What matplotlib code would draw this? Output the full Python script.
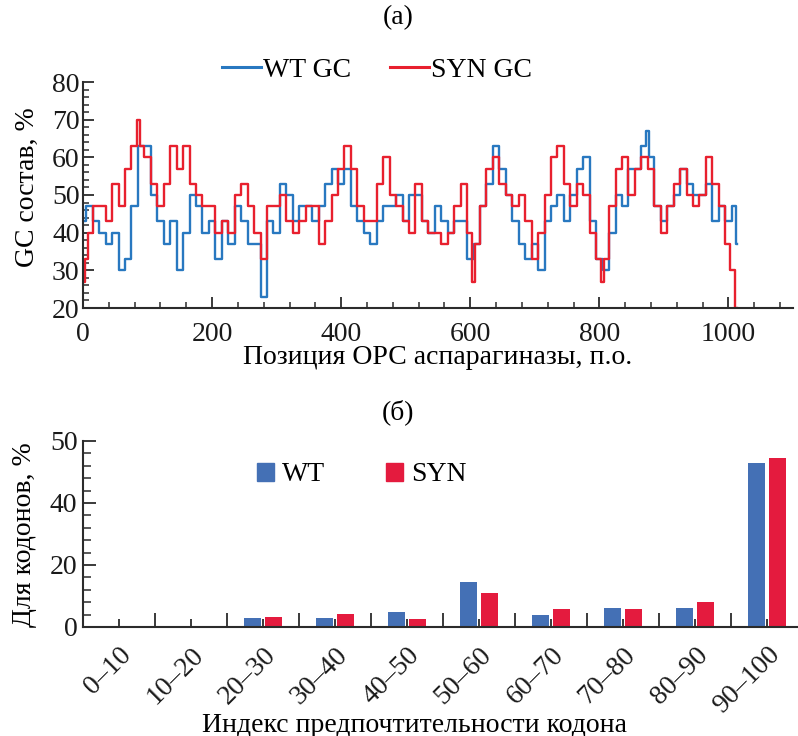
import matplotlib
matplotlib.use("Agg")
import matplotlib.pyplot as plt
from matplotlib.patches import Patch
from matplotlib.lines import Line2D
from matplotlib.ticker import MultipleLocator, FixedLocator

plt.rcParams['font.family'] = ['Liberation Serif', 'DejaVu Serif']

# ---- Panel (a): GC content along ORF ----
wt_pos = [0, 10, 20, 30, 40, 50, 60, 70, 80, 90, 100, 110, 120, 130, 140, 150, 160, 170,
          180, 190, 200, 210, 220, 230, 240, 250, 260, 270, 280, 290, 300, 310, 320, 330,
          340, 350, 360, 370, 380, 390, 400, 410, 420, 430, 440, 450, 460, 470, 480, 490,
          500, 510, 520, 530, 540, 550, 560, 570, 580, 590, 600, 610, 620, 630, 640, 650,
          660, 670, 680, 690, 700, 710, 720, 730, 740, 750, 760, 770, 780, 790, 800, 810,
          820, 830, 840, 850, 860, 870, 875, 880, 890, 900, 910, 920, 930, 940, 950, 960,
          970, 980, 990, 1000, 1010, 1014]
wt_gc = [43, 47, 43, 40, 37, 40, 30, 33, 47, 63, 63, 50, 43, 37, 43, 30, 40, 50,
         47, 40, 43, 33, 43, 37, 47, 43, 37, 37, 23, 43, 40, 53, 50, 43,
         47, 47, 43, 47, 53, 57, 53, 57, 47, 43, 40, 37, 43, 47, 47, 50,
         43, 50, 50, 43, 40, 47, 43, 40, 43, 43, 33, 37, 47, 53, 63, 57,
         50, 43, 37, 33, 37, 30, 43, 47, 50, 43, 50, 57, 60, 43, 33, 30,
         40, 50, 47, 57, 57, 63, 67, 60, 47, 43, 47, 50, 57, 53, 50, 50,
         53, 43, 47, 43, 47, 37]

syn_pos = [0, 5, 10, 20, 30, 40, 50, 60, 70, 80, 88, 90, 100, 110, 120, 130, 140, 150,
           160, 170, 180, 190, 200, 210, 220, 230, 240, 250, 260, 270, 280, 290, 300, 310,
           320, 330, 340, 350, 360, 370, 380, 390, 400, 410, 420, 430, 440, 450, 460, 470,
           480, 490, 500, 510, 520, 530, 540, 550, 560, 570, 580, 590, 600, 605, 610, 620,
           630, 640, 650, 660, 670, 680, 690, 700, 710, 720, 730, 740, 750, 760, 770, 780,
           790, 800, 805, 810, 820, 830, 840, 850, 860, 870, 880, 890, 900, 910, 920, 930,
           940, 950, 960, 970, 980, 990, 1000, 1005, 1014]
syn_gc = [27, 33, 40, 47, 47, 43, 53, 47, 57, 63, 70, 63, 60, 53, 47, 53, 63, 57,
          63, 53, 50, 47, 47, 40, 43, 40, 50, 53, 47, 40, 33, 47, 47, 50,
          43, 40, 43, 47, 47, 37, 43, 50, 57, 63, 57, 47, 43, 43, 53, 60,
          50, 47, 43, 40, 53, 43, 40, 40, 37, 40, 47, 53, 40, 27, 37, 47,
          57, 60, 53, 50, 47, 50, 43, 33, 40, 50, 60, 63, 53, 47, 53, 50,
          40, 33, 27, 33, 47, 57, 60, 50, 57, 60, 57, 47, 40, 47, 53, 57,
          50, 47, 50, 60, 53, 47, 37, 30, 20]

# ---- Panel (b): codon preference index histogram ----
categories = ["0–10", "10–20", "20–30", "30–40", "40–50",
              "50–60", "60–70", "70–80", "80–90", "90–100"]
wt_share = [0, 0, 3.0, 3.0, 5.0, 14.5, 3.9, 6.1, 6.1, 53.0]
syn_share = [0, 0, 3.2, 4.2, 2.5, 10.9, 5.9, 5.9, 8.1, 54.4]
b_ytick_vals = [0, 20, 40, 60]
b_ytick_labels = ["0", "20", "40", "50"]

W, H = 798, 736
fig = plt.figure(figsize=(W / 100, H / 100), dpi=100)

blue_line = '#2878c0'
red_line = '#e8202e'
blue_bar = '#4470b5'
red_bar = '#e41b3e'
spine_c = '#2b2b2b'
FS = 20

# ---------- top axes ----------
ax1 = fig.add_axes([83 / W, 1 - 308 / H, (793 - 83) / W, (308 - 82) / H])
ax1.plot(wt_pos, wt_gc, color=blue_line, lw=1.7, drawstyle='steps-mid')
ax1.plot(syn_pos, syn_gc, color=red_line, lw=1.7, drawstyle='steps-mid')
ax1.set_xlim(0, 1100)
ax1.set_ylim(20, 80)
ax1.xaxis.set_major_locator(MultipleLocator(200))
ax1.xaxis.set_minor_locator(MultipleLocator(40))
ax1.yaxis.set_major_locator(MultipleLocator(10))
ax1.yaxis.set_minor_locator(MultipleLocator(2))
for s in ['top', 'right']:
    ax1.spines[s].set_visible(False)
for s in ['left', 'bottom']:
    ax1.spines[s].set_linewidth(1.5)
    ax1.spines[s].set_color(spine_c)
ax1.tick_params(which='major', direction='in', length=8, width=1.3, color=spine_c,
                labelsize=FS, labelcolor='#1a1a1a')
ax1.tick_params(which='minor', direction='in', length=4.5, width=1.1, color=spine_c)
ax1.tick_params(axis='x', which='major', pad=10)
ax1.tick_params(axis='y', which='major', pad=2.5)

leg1 = fig.legend(handles=[Line2D([0], [0], color=blue_line, lw=2.2),
                           Line2D([0], [0], color=red_line, lw=2.2)],
                  labels=["WT GC", "SYN GC"], loc='center',
                  bbox_to_anchor=(377 / W, 1 - 70 / H), ncol=2, frameon=False,
                  fontsize=FS, handlelength=1.4, handletextpad=0.08,
                  columnspacing=1.4, borderpad=0.1)

fig.text(398 / W, 1 - 18 / H, "(a)", ha='center', va='center', fontsize=FS)
fig.text(438 / W, 1 - 358 / H, "Позиция ОРС аспарагиназы, п.о.", ha='center',
         va='center', fontsize=FS)
fig.text(27 / W, 1 - 187 / H, "GC состав, %", ha='center', va='center',
         rotation=90, fontsize=FS)

# ---------- bottom axes ----------
ax2 = fig.add_axes([83 / W, 1 - 627 / H, (798 - 83) / W, (627 - 441) / H])
x = list(range(len(categories)))
bw = 0.24
ax2.bar([i - 0.15 for i in x], wt_share, width=bw, color=blue_bar)
ax2.bar([i + 0.15 for i in x], syn_share, width=bw, color=red_bar)
ax2.set_xlim(-0.5, 9.43)
ax2.set_ylim(0, 60)
ax2.set_yticks(b_ytick_vals)
ax2.set_yticklabels(b_ytick_labels)
ax2.yaxis.set_minor_locator(MultipleLocator(4))
ax2.set_xticks(x)
ax2.set_xticklabels(categories, rotation=45, ha='right', va='top',
                    rotation_mode='anchor')
ax2.xaxis.set_minor_locator(FixedLocator([i + 0.5 for i in range(-1, 10)]))
for s in ['top', 'right']:
    ax2.spines[s].set_visible(False)
for s in ['left', 'bottom']:
    ax2.spines[s].set_linewidth(1.5)
    ax2.spines[s].set_color(spine_c)
ax2.tick_params(which='major', direction='in', width=1.3, color=spine_c,
                labelsize=FS, labelcolor='#1a1a1a')
ax2.tick_params(axis='x', which='major', length=6, pad=11)
ax2.tick_params(axis='x', which='minor', direction='in', length=10, width=1.3,
                color=spine_c)
ax2.tick_params(axis='y', which='major', length=9, pad=4)
ax2.tick_params(axis='y', which='minor', direction='in', length=6, width=1.1,
                color=spine_c)

leg2 = fig.legend(handles=[Patch(color=blue_bar), Patch(color=red_bar)],
                  labels=["WT", "SYN"], loc='center',
                  bbox_to_anchor=(362 / W, 1 - 475 / H), ncol=2, frameon=False,
                  fontsize=FS, handlelength=0.6, handleheight=0.6,
                  handletextpad=0.3, columnspacing=2.2, borderpad=0.1)

fig.text(398 / W, 1 - 412 / H, "(б)", ha='center', va='center', fontsize=FS)
fig.text(415 / W, 1 - 725 / H, "Индекс предпочтительности кодона", ha='center',
         va='center', fontsize=FS)
fig.text(25 / W, 1 - 535 / H, "Для кодонов, %", ha='center', va='center',
         rotation=90, fontsize=FS)

fig.savefig("out.png", dpi=100)
